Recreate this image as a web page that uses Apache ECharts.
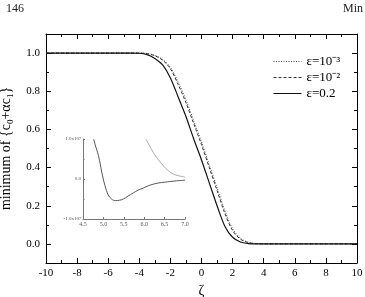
<!DOCTYPE html>
<html><head><meta charset="utf-8">
<script src="https://cdn.jsdelivr.net/npm/echarts@6/dist/echarts.min.js"></script>
<style>html,body{margin:0;padding:0;background:#fff}#c{width:365px;height:297px}</style>
</head><body><div id="c"></div>
<script>
// Main chart data
const zeta = [-10,-8,-6,-5,-4.5,-4,-3.5,-3,-2.5,-2,-1.5,-1,-0.5,0,0.5,1,1.5,2,2.5,3,3.5,4,5,6,8,10];
const epsDotted = [1,1,1,1,1,1,0.998,0.988,0.967,0.925,0.848,0.755,0.645,0.535,0.415,0.295,0.175,0.08,0.03,0.009,0.002,0,0,0,0,0]; // ε=10^-3
const epsDashed = [1,1,1,1,1,1,0.997,0.986,0.963,0.918,0.835,0.74,0.63,0.52,0.40,0.28,0.16,0.07,0.025,0.007,0.001,0,0,0,0,0]; // ε=10^-2
const epsSolid  = [1,1,1,1,1,0.999,0.992,0.972,0.938,0.87,0.77,0.668,0.55,0.44,0.32,0.2,0.093,0.035,0.01,0.002,0,0,0,0,0,0]; // ε=0.2
const legendNames = ['ε=10⁻³','ε=10⁻²','ε=0.2'];
const yMajor = [0,0.2,0.4,0.6,0.8,1.0];
const yMinor = [0.1,0.3,0.5,0.7,0.9];
// Inset data
const insetDarkX = [4.76,4.8,4.88,4.96,5.04,5.12,5.2,5.29,5.4,5.49,5.6,5.73,5.85,5.98,6.1,6.22,6.35,6.5,6.75,7.0];
const insetDarkY = [1.0,0.85,0.58,0.17,-0.17,-0.40,-0.5,-0.54,-0.53,-0.5,-0.43,-0.35,-0.28,-0.225,-0.17,-0.13,-0.1,-0.08,-0.05,-0.03];
const insetLightX = [6.04,6.12,6.22,6.35,6.47,6.6,6.71,6.85,7.0];
const insetLightY = [1.0,0.85,0.67,0.48,0.33,0.2,0.125,0.08,0.05];

const F = "'Liberation Serif', 'Times New Roman', serif";
const pair = (xs, ys) => xs.map((x,i)=>[x, ys[i]]);
const chart = echarts.init(document.getElementById('c'));
const majorY = (pos, labels) => ({
  type:'value', gridIndex:0, position:pos, min:-0.1, max:1.1,
  axisLine:{show:true, onZero:false, lineStyle:{color:'#000', width:1}},
  axisTick:{show:true, inside:true, length:5, customValues:yMajor, lineStyle:{color:'#000'}},
  axisLabel:{show:labels, customValues:yMajor, formatter:v=>v.toFixed(1), fontFamily:F, fontSize:11, color:'#000', margin:6},
  splitLine:{show:false},
  name: labels ? 'minimum of {c{sub|0}+αc{sub|1}}' : '',
  nameLocation:'middle', nameGap:27,
  nameTextStyle:{fontFamily:F, fontSize:14, color:'#000', rich:{sub:{fontFamily:F, fontSize:9, verticalAlign:'bottom', lineHeight:18}}}
});
const minorY = (pos) => ({
  type:'value', gridIndex:0, position:pos, min:-0.1, max:1.1,
  axisLine:{show:false, onZero:false}, axisLabel:{show:false}, splitLine:{show:false},
  axisTick:{show:true, inside:true, length:3, customValues:yMinor, lineStyle:{color:'#000'}}
});
const xMain = (pos, labels) => ({
  type:'value', gridIndex:0, position:pos, min:-10, max:10, interval:2,
  axisLine:{show:true, onZero:false, lineStyle:{color:'#000', width:1}},
  axisTick:{show:true, inside:true, length:5, lineStyle:{color:'#000'}},
  minorTick:{show:true, splitNumber:2, length:3, lineStyle:{color:'#000'}},
  axisLabel:{show:labels, fontFamily:F, fontSize:11, color:'#000', margin:5},
  splitLine:{show:false}, minorSplitLine:{show:false},
  name: labels ? 'ζ' : '', nameLocation:'middle', nameGap:16,
  nameTextStyle:{fontFamily:F, fontSize:14, color:'#000'}
});

chart.setOption({
  animation:false,
  backgroundColor:'#fff',
  grid:[
    {left:46, right:8, top:34, bottom:34, outerBoundsMode:'none', containLabel:false},
    {left:83, right:180, top:139, bottom:78, outerBoundsMode:'none', containLabel:false}
  ],
  xAxis:[
    xMain('bottom', true),
    xMain('top', false),
    {type:'value', gridIndex:1, min:4.5, max:7.0, interval:0.5,
     axisLine:{show:true, onZero:false, lineStyle:{color:'#777', width:1}},
     axisTick:{show:true, inside:true, length:2, lineStyle:{color:'#777'}},
     axisLabel:{fontFamily:F, fontSize:6, color:'#555', margin:2, formatter:v=>v.toFixed(1)},
     splitLine:{show:false}}
  ],
  yAxis:[
    majorY('left', true), minorY('left'), majorY('right', false), minorY('right'),
    {type:'value', gridIndex:1, min:-1, max:1, interval:1,
     axisLine:{show:true, onZero:false, lineStyle:{color:'#777', width:1}},
     axisTick:{show:true, inside:true, length:2, lineStyle:{color:'#777'}},
     minorTick:{show:true, splitNumber:2, length:1.5, lineStyle:{color:'#777'}},
     axisLabel:{fontFamily:F, fontSize:5, color:'#555', margin:2,
       formatter:v=> v===0 ? '0.0' : (v>0 ? '1.0x10{sup|7}' : '-1.0x10{sup|7}'),
       rich:{sup:{fontFamily:F, fontSize:4, verticalAlign:'top', color:'#555'}}},
     splitLine:{show:false}}
  ],
  legend:{
    orient:'vertical', left:268, top:50, itemWidth:28, itemHeight:10, itemGap:3,
    itemStyle:{opacity:0},
    lineStyle:{width:1},
    textStyle:{fontFamily:F, fontSize:13, color:'#000'},
    data:legendNames
  },
  series:[
    {name:legendNames[0], type:'line', xAxisIndex:0, yAxisIndex:0, data:pair(zeta, epsDotted), smooth:0.3, showSymbol:false, symbol:'none',
     lineStyle:{color:'#444', width:1, type:[1,1.5]}, itemStyle:{color:'#444'}},
    {name:legendNames[1], type:'line', xAxisIndex:0, yAxisIndex:0, data:pair(zeta, epsDashed), smooth:0.3, showSymbol:false, symbol:'none',
     lineStyle:{color:'#333', width:1, type:[3,2]}, itemStyle:{color:'#333'}},
    {name:legendNames[2], type:'line', xAxisIndex:0, yAxisIndex:0, data:pair(zeta, epsSolid), smooth:0.3, showSymbol:false, symbol:'none',
     lineStyle:{color:'#111', width:1.2, type:'solid'}, itemStyle:{color:'#111'}},
    {type:'line', xAxisIndex:2, yAxisIndex:4, data:pair(insetDarkX, insetDarkY), smooth:0.4, symbol:'none',
     lineStyle:{color:'#555', width:1}},
    {type:'line', xAxisIndex:2, yAxisIndex:4, data:pair(insetLightX, insetLightY), smooth:0.4, symbol:'none',
     lineStyle:{color:'#aaa', width:1}}
  ],
  graphic:[
    {type:'text', left:6, top:3, style:{text:'146', fontFamily:F, fontSize:12, fill:'#222'}},
    {type:'text', left:343, top:3, style:{text:'Min', fontFamily:F, fontSize:12, fill:'#222'}}
  ]
});
</script></body></html>
